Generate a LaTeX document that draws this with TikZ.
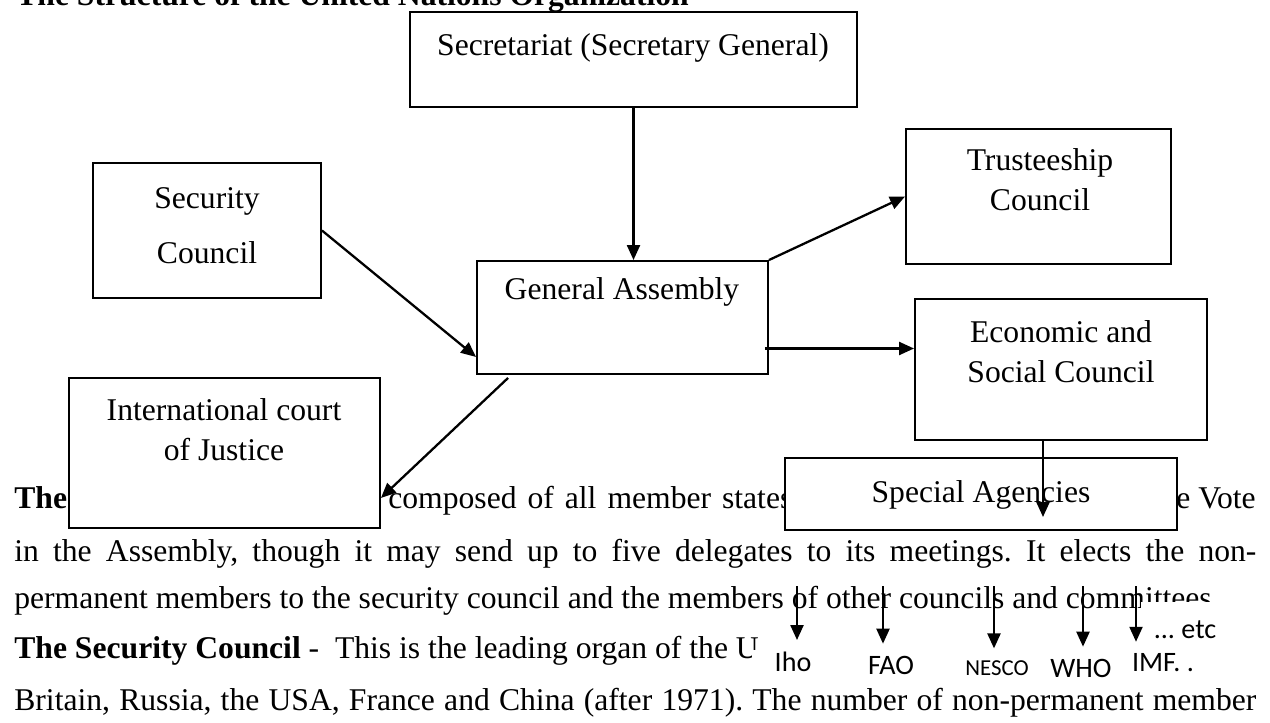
\documentclass[tikz,border=0pt]{standalone}
\usepackage{fontspec}
\setmainfont{Liberation Serif}
\newfontfamily\lblfont{Carlito}
\usetikzlibrary{arrows.meta,positioning,calc}
\frenchspacing

\begin{document}
\begin{tikzpicture}[x=0.2mm, y=-0.2mm,
    unit/.style={draw, line width=1.1pt, fill=white, inner sep=0pt},
    arr/.style={line width=1.3pt, -{Triangle[length=3mm,width=2.6mm]}},
    txt/.style={font=\fontsize{18}{22.7}\selectfont, align=center, inner sep=0pt},
    body/.style={font=\fontsize{18}{22}\selectfont, anchor=base west, inner sep=0pt},
    agency/.style={font=\lblfont\fontsize{16}{19}\selectfont, inner sep=1pt}]

\useasboundingbox (0,0) rectangle (1270,723);

% page text behind the chart
\node[body] (title) at (16,6) {\textbf{The Structure of the United Nations Organization}};
\node[body] (l1a) at (14,508) {\textbf{The}};
\node[body] (l1b) at (388,508) {\makebox[80.8mm][s]{composed of all member states}};
\node[body, anchor=base east] (l1c) at (1256,508) {e Vote};
\node[body] (l2) at (14,561) {\makebox[248.4mm][s]{in the Assembly, though it may send up to five delegates to its meetings. It elects the non-}};
\node[body] (l3) at (14,608) {permanent members to the security council and the members of other councils and committees};
\node[body] (l4) at (14,658) {\textbf{The Security Council} -\ \ This is the leading organ of the U};
\node[body] (l5) at (14,710) {\makebox[248.4mm][s]{Britain, Russia, the USA, France and China (after 1971). The number of non-permanent member}};

% organs
\node[unit, minimum width=89.4mm, minimum height=19mm] (sec) at (633.5,59.5) {};
\node[unit, minimum width=45.6mm, minimum height=27mm] (sc) at (207,230.5) {};
\node[unit, minimum width=58.2mm, minimum height=22.6mm] (ga) at (622.5,317.5) {};
\node[unit, minimum width=53mm, minimum height=27mm] (tc) at (1038.5,196.5) {};
\node[unit, minimum width=58.4mm, minimum height=28.2mm] (ec) at (1061,369.5) {};
\node[unit, minimum width=62.2mm, minimum height=30mm] (icj) at (224.5,453) {};
\node[unit, minimum width=78.4mm, minimum height=14.4mm] (sa) at (981,494) {};

\node[txt] (sectxt) at (633,48) {Secretariat (Secretary General)};
\node[txt] (sctxt) at (207,226) {Security\\[3mm]Council};
\node[txt] (gatxt) at (622,292) {General Assembly};
\node[txt] (tctxt) at (1040,180) {Trusteeship\\Council};
\node[txt] (ectxt) at (1061,352) {Economic and\\Social Council};
\node[txt] (icjtxt) at (224,430) {International court\\of Justice};
\node[txt] (satxt) at (981,495) {Special Agencies};

% links
\draw[arr] (sec.south) -- (sec.south |- ga.north);
\draw[arr] (sc.east) -- ($(ga.south west)+(0,-18)$);
\draw[arr] (ga.north east) -- (tc.west);
\coordinate (gaout) at ($(ga.east)+(-4,31)$);
\draw[arr] (gaout) -- (gaout -| ec.west);
\draw[arr] ($(ga.south west)+(32,3)$) -- ($(icj.south east)+(0,-31)$);
\coordinate (ecout) at ($(ec.south)+(-18,0)$);
\draw[arr] (ecout) -- ($(ecout |- sa.center)+(0,23)$);

% agencies
\node[agency, fill=white, inner xsep=13pt] (iho) at (793,662) {Iho};
\node[agency] (fao) at (891,665) {FAO};
\node[agency, font=\lblfont\fontsize{13}{15}\selectfont] (nesco) at (997,668) {NESCO};
\node[agency] (who) at (1081,668) {WHO};
\node[agency, fill=white, inner xsep=7pt, inner ysep=11pt] (etc) at (1185,630) {... etc};
\node[agency] (imf) at (1163,663) {IMF. .};
\coordinate (a1) at (797,586);
\coordinate (a2) at (883,586);
\coordinate (a3) at (994,586);
\coordinate (a4) at (1083,586);
\coordinate (a5) at (1136,586);
\draw[arr, shorten >=2mm] (a1) -- (a1 |- iho.north);
\draw[arr, shorten >=2mm] (a2) -- (a2 |- fao.north);
\draw[arr, shorten >=2mm] (a3) -- (a3 |- nesco.north);
\draw[arr, shorten >=2mm] (a4) -- (a4 |- who.north);
\draw[arr, shorten >=2mm] (a5) -- (a5 |- imf.north);
\end{tikzpicture}
\end{document}
